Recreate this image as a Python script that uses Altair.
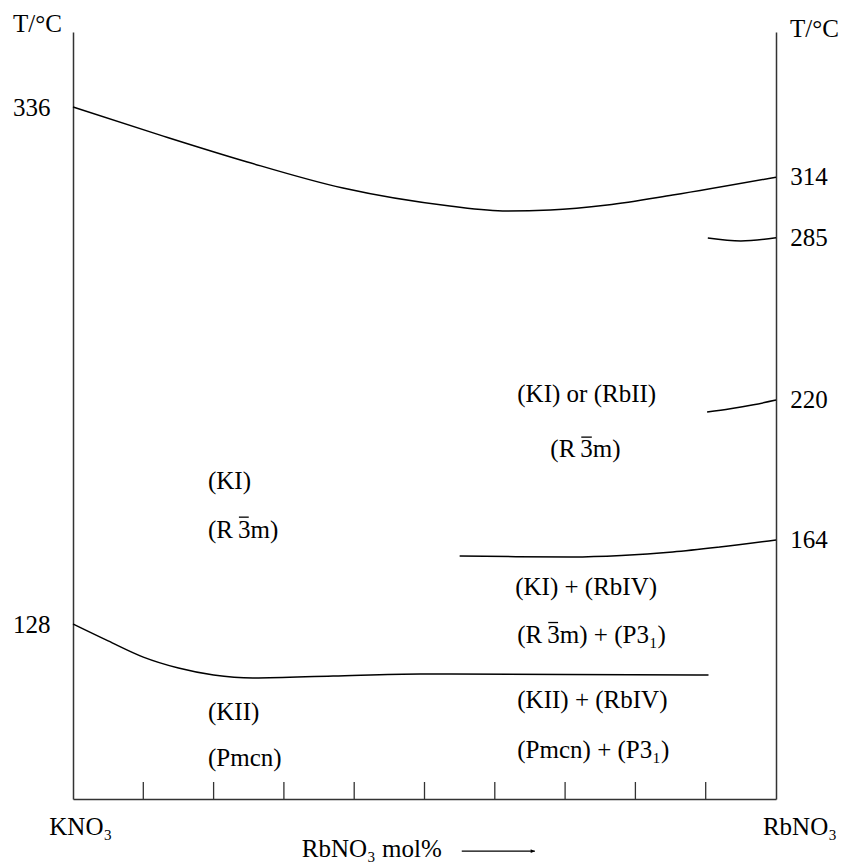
import altair as alt
import pandas as pd

FONT = "Liberation Serif"
FS = 25

# ---- phase boundary curves (x: RbNO3 mol%, T: degC) ----
top_x = [0, 12.4, 24.8, 38.4, 53.6, 61.7, 67.9, 76.0, 85.3, 100]
top_t = [336, 324.7, 313.9, 303.4, 296.2, 294.2, 294.6, 296.6, 300.6, 307.8]
c285_x = [90.3, 95.0, 100]
c285_t = [283.3, 282.1, 283.4]
c220_x = [90.2, 93.5, 96.8, 100]
c220_t = [213.3, 214.6, 216.2, 218.1]
c164_x = [55, 63, 71.1, 78, 85.3, 92, 100]
c164_t = [155.4, 155.1, 155.0, 155.6, 157.0, 159.0, 161.8]
low_x = [0, 5, 10, 15, 20, 25.6, 37, 49.4, 70, 90.4]
low_t = [128, 121.2, 114.7, 110.3, 107.5, 106.3, 107.1, 107.9, 107.7, 107.5]

# ---- labels ----
left_axis_values = [336, 128]
right_labels = ["314", "285", "220", "164"]
right_label_t = [307.8, 283.4, 218.1, 161.8]

R3M = "R\u20093m"   # the bar over the 3 is drawn separately (overline rules below)
left_phase_text = ["(KI)", "(" + R3M + ")", "(KII)", "(Pmcn)"]
left_phase_x = [19.2, 19.2, 19.2, 19.2]
left_phase_t = [185.5, 165.8, 92.6, 74.1]

right_phase_text = ["(KI) or (RbII)", "(" + R3M + ")", "(KI) + (RbIV)",
                    "(" + R3M + ") + (P3\u2081)", "(KII) + (RbIV)", "(Pmcn) + (P3\u2081)"]
right_phase_x = [63.2, 67.9, 62.9, 63.2, 63.2, 63.2]
right_phase_t = [220.5, 198.4, 142.9, 123.6, 97.4, 77.3]

# overline (bar) over the "3" of R-3m
bar_x = [23.6, 72.3, 67.6]
bar_x2 = [25.0, 73.8, 69.0]
bar_t = [171.0, 203.2, 128.6]

end_labels = ["KNO\u2083", "RbNO\u2083"]
end_label_x = [1.1, 103.4]
end_label_t = [46.3, 46.3]

axis_title_text = ["RbNO\u2083 mol%"]
axis_title_x = [42.5]
axis_title_t = [37.3]
arrow_x = [55.3]
arrow_x2 = [65.7]
arrow_t = [36.6]

tick_positions = [10, 20, 30, 40, 50, 60, 70, 80, 90]

T_DOMAIN = [57.6, 366.2]
X_DOMAIN = [0, 100]

# ---- tables ----
rows = []
for name, xs_, ts_ in [("top", top_x, top_t), ("c285", c285_x, c285_t),
                       ("c220", c220_x, c220_t), ("c164", c164_x, c164_t),
                       ("low", low_x, low_t)]:
    for xv, tv in zip(xs_, ts_):
        rows.append({"curve": name, "x": xv, "T": tv})
curves = pd.DataFrame(rows)

xs = alt.Scale(domain=X_DOMAIN, nice=False, zero=False)
ys = alt.Scale(domain=T_DOMAIN, nice=False, zero=False)
NOAX = None

lines = alt.Chart(curves).mark_line(color="black", strokeWidth=1.5, interpolate="monotone").encode(
    x=alt.X("x:Q", scale=xs, axis=alt.Axis(labels=False, ticks=False, domain=True, grid=False,
                                           title=None, domainColor="#333", domainWidth=1.5)),
    y=alt.Y("T:Q", scale=ys, axis=alt.Axis(
        values=left_axis_values, ticks=False, domain=True, grid=False, domainColor="#333",
        domainWidth=1.5, labelFont=FONT, labelFontSize=FS, labelColor="black",
        labelPadding=23, labelBaseline="middle",
        title="T/°C", titleAngle=0, titleX=-36, titleY=-9, titleAlign="center",
        titleBaseline="middle", titleFont=FONT, titleFontSize=FS, titleFontWeight="normal",
        titleColor="black", orient="left")),
    detail="curve:N",
)

rdf = pd.DataFrame({"label": right_labels, "T": right_label_t, "x": [100] * len(right_labels)})
right_text = alt.Chart(rdf).mark_text(font=FONT, fontSize=FS, color="black", align="center",
                                      baseline="middle", dx=33).encode(
    x=alt.X("x:Q", scale=xs, axis=NOAX),
    y=alt.Y("T:Q", scale=ys, axis=alt.Axis(
        orient="right", labels=False, ticks=False, domain=True, grid=False,
        domainColor="#333", domainWidth=1.5,
        title="T/°C", titleAngle=0, titleX=38, titleY=-4, titleAlign="center",
        titleBaseline="middle", titleFont=FONT, titleFontSize=FS, titleFontWeight="normal",
        titleColor="black")),
    text="label:N",
)

ldf = pd.DataFrame({"label": left_phase_text + right_phase_text,
                    "x": left_phase_x + right_phase_x,
                    "T": left_phase_t + right_phase_t})
phase_text = alt.Chart(ldf).mark_text(font=FONT, fontSize=FS, color="black", align="left",
                                      baseline="middle").encode(
    x=alt.X("x:Q", scale=xs, axis=NOAX), y=alt.Y("T:Q", scale=ys, axis=NOAX), text="label:N")

bdf = pd.DataFrame({"x": bar_x, "x2": bar_x2, "T": bar_t})
bars = alt.Chart(bdf).mark_rule(color="black", strokeWidth=1.3).encode(
    x=alt.X("x:Q", scale=xs, axis=NOAX), x2="x2:Q", y=alt.Y("T:Q", scale=ys, axis=NOAX))

edf = pd.DataFrame({"label": end_labels + axis_title_text,
                    "x": end_label_x + axis_title_x, "T": end_label_t + axis_title_t})
end_text = alt.Chart(edf).mark_text(font=FONT, fontSize=FS, color="black", align="center",
                                    baseline="middle").encode(
    x=alt.X("x:Q", scale=xs, axis=NOAX), y=alt.Y("T:Q", scale=ys, axis=NOAX), text="label:N")

adf = pd.DataFrame({"x": arrow_x, "x2": arrow_x2, "T": arrow_t})
arrow_line = alt.Chart(adf).mark_rule(color="black", strokeWidth=1.2).encode(
    x=alt.X("x:Q", scale=xs, axis=NOAX), x2="x2:Q", y=alt.Y("T:Q", scale=ys, axis=NOAX))
arrow_head = alt.Chart(adf).mark_point(shape="M -1 -0.45 L 0 0 L -1 0.45", filled=True,
                                       color="black", size=70, opacity=1).encode(
    x=alt.X("x2:Q", scale=xs, axis=NOAX), y=alt.Y("T:Q", scale=ys, axis=NOAX))

tdf = pd.DataFrame({"x": tick_positions})
ticks = alt.Chart(tdf).mark_rule(color="#333", strokeWidth=1.3).encode(
    x=alt.X("x:Q", scale=xs, axis=NOAX),
    y=alt.value(767), y2=alt.value(750))

chart = alt.layer(lines, right_text, phase_text, bars, end_text, arrow_line, arrow_head, ticks).resolve_axis(
    x="independent", y="independent"
).properties(
    width=703, height=767,
    padding={"left": 73, "top": 32, "right": 67, "bottom": 65},
    autosize=alt.AutoSizeParams(type="none"),
    background="white",
).configure_view(stroke=None).configure_axis(grid=False)

chart.save("out.html", embed_options={"renderer": "svg", "actions": False})
